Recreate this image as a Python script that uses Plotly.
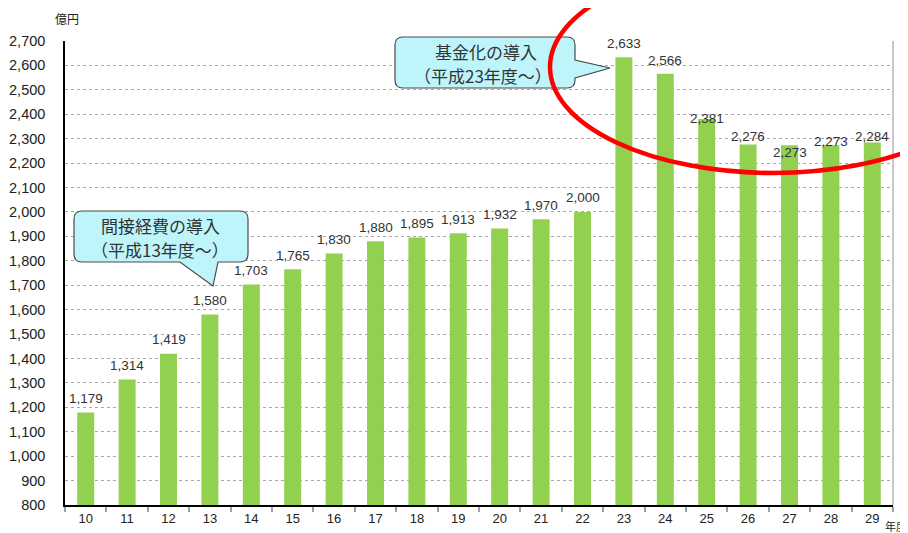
import plotly.graph_objects as go

years = ["10", "11", "12", "13", "14", "15", "16", "17", "18", "19",
         "20", "21", "22", "23", "24", "25", "26", "27", "28", "29"]
values = [1179, 1314, 1419, 1580, 1703, 1765, 1830, 1880, 1895, 1913,
          1932, 1970, 2000, 2633, 2566, 2381, 2276, 2273, 2273, 2284]
# vertical offsets (px) of the value labels relative to bar tops
label_shift = [14, 14, 14, 14, 14, 14, 14, 14, 14, 14,
               14, 14, 14, 14, 13, 0, 8, -7, 4, 6]

# the page body adds an 8px margin, so the figure is drawn 8px in from the top-left
OFF = 8
W, H = 908 - OFF, 533 - OFF
L, R, T, B = 65 - OFF, 15, 41 - OFF, 28
PW, PH = W - L - R, H - T - B


def px(x):
    return (x - OFF - L) / PW


def py(y):
    return (H - B - (y - OFF)) / PH


fig = go.Figure()
fig.add_trace(go.Bar(x=years, y=values, marker=dict(color="#92D050", line=dict(width=0)),
                     hoverinfo="x+y"))

font_num = "Arial, Liberation Sans, sans-serif"
font_jp = "Noto Sans CJK JP, sans-serif"

for i, (v, s) in enumerate(zip(values, label_shift)):
    fig.add_annotation(x=i, y=v, xref="x", yref="y", text=f"{v:,}", showarrow=False,
                       xanchor="center", yanchor="middle",
                       yshift=s, font=dict(family=font_num, size=13.5, color="#333333"))


def callout(x0, y0, x1, y1, tail, r=8):
    (ta, tb, tip, side) = tail
    d = f"M {px(x0 + r)},{py(y0)} "
    if side == "right":
        d += f"L {px(x1 - r)},{py(y0)} Q {px(x1)},{py(y0)} {px(x1)},{py(y0 + r)} "
        d += f"L {px(x1)},{py(ta)} L {px(tip[0])},{py(tip[1])} L {px(x1)},{py(tb)} "
        d += f"L {px(x1)},{py(y1 - r)} Q {px(x1)},{py(y1)} {px(x1 - r)},{py(y1)} "
        d += f"L {px(x0 + r)},{py(y1)} "
    else:
        d += f"L {px(x1 - r)},{py(y0)} Q {px(x1)},{py(y0)} {px(x1)},{py(y0 + r)} "
        d += f"L {px(x1)},{py(y1 - r)} Q {px(x1)},{py(y1)} {px(x1 - r)},{py(y1)} "
        d += f"L {px(tb)},{py(y1)} L {px(tip[0])},{py(tip[1])} L {px(ta)},{py(y1)} "
        d += f"L {px(x0 + r)},{py(y1)} "
    d += f"Q {px(x0)},{py(y1)} {px(x0)},{py(y1 - r)} L {px(x0)},{py(y0 + r)} "
    d += f"Q {px(x0)},{py(y0)} {px(x0 + r)},{py(y0)} Z"
    return dict(type="path", xref="paper", yref="paper", path=d,
                fillcolor="#BDF5FB", line=dict(color="#4A4A4A", width=1.2), layer="above")


shapes = []
shapes.append(dict(type="line", xref="paper", yref="paper", x0=1, x1=1, y0=0, y1=1,
                   line=dict(color="#C8C8C8", width=2)))
shapes.append(callout(74, 211, 248, 262, (180, 218, (213, 286), "bottom")))
shapes.append(callout(395, 37, 575, 88, (60, 78, (610, 68), "right")))
cx, cy, rx, ry = 773, 67, 223, 106
shapes.append(dict(type="circle", xref="paper", yref="paper",
                   x0=px(cx - rx), x1=px(cx + rx), y0=py(cy + ry), y1=py(cy - ry),
                   line=dict(color="#FF0000", width=4.5), layer="above"))


def note(x, y, text, size, family=font_jp, color="#333333", xanchor="center"):
    fig.add_annotation(xref="paper", yref="paper", x=px(x), y=py(y), showarrow=False,
                       xanchor=xanchor, yanchor="middle", text=text, borderpad=0,
                       font=dict(family=family, size=size, color=color))


note(160, 226, "間接経費の導入", 17)
note(160, 249, "（平成13年度～）", 17)
note(486, 52, "基金化の導入", 17)
note(483, 75, "（平成23年度～）", 17)

note(67, 18, "億円", 12, color="#222222")
note(884, 526, "年度", 11, color="#222222", xanchor="left")

fig.update_layout(
    width=W, height=H,
    margin=dict(l=L, r=R, t=T, b=B, pad=0, autoexpand=False),
    paper_bgcolor="white", plot_bgcolor="white",
    bargap=0.59,
    showlegend=False,
    shapes=shapes,
    xaxis=dict(type="category", range=[-0.5, len(years) - 0.5], autorange=False,
               automargin=False, showline=True, linecolor="black", linewidth=2,
               ticks="outside", tickson="boundaries", ticklen=5, tickcolor="#A0A0A0",
               tickwidth=1.5, showgrid=False,
               tickfont=dict(family=font_num, size=13, color="#222222")),
    yaxis=dict(range=[800, 2700], autorange=False, automargin=False, dtick=100,
               tickformat=",", showline=True,
               linecolor="black", linewidth=1.5, showgrid=True, gridcolor="#A8A8A8",
               griddash="dot", gridwidth=1, zeroline=False, ticks="",
               ticklabelstandoff=15,
               tickfont=dict(family=font_num, size=14.5, color="#222222")),
)

fig.write_html("out.html")
